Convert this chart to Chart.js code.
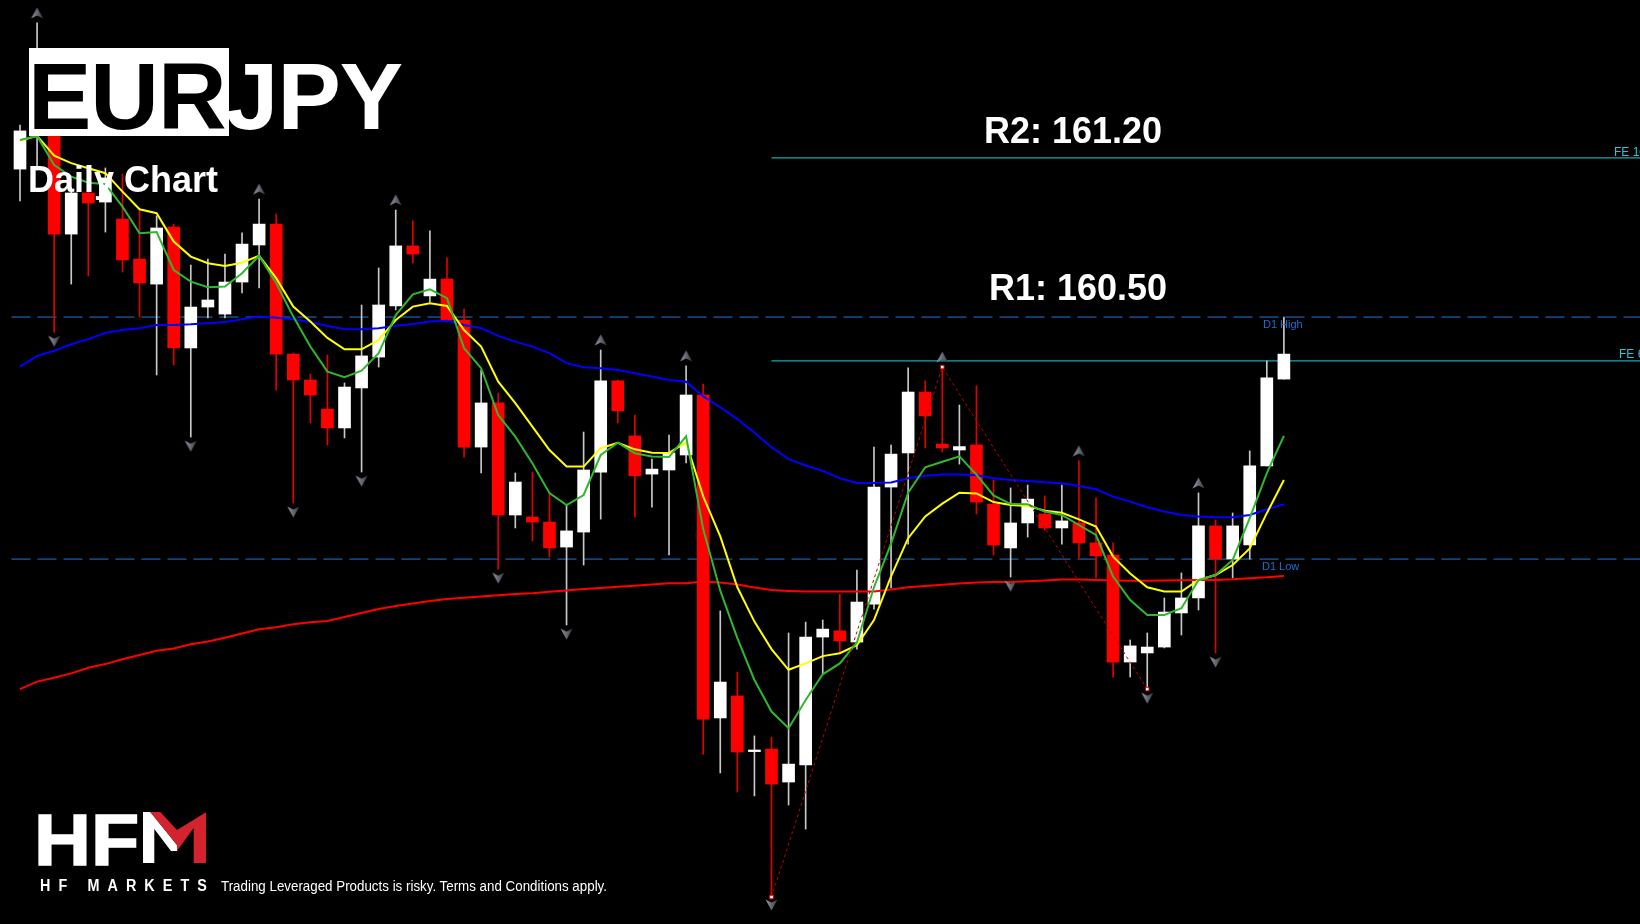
<!DOCTYPE html>
<html>
<head>
<meta charset="utf-8">
<title>EURJPY Daily Chart</title>
<script src="https://cdn.jsdelivr.net/npm/chart.js@4.4.0/dist/chart.umd.min.js"></script>
<style>
  html, body { margin: 0; padding: 0; background: #000; overflow: hidden; }
  #wrap { position: relative; width: 1640px; height: 924px; background: #000; overflow: hidden; }
  #chart { position: absolute; left: 0; top: 0; }
  .t { position: absolute; white-space: nowrap; line-height: 1; font-family: "Liberation Sans", Arial, Helvetica, sans-serif; }
  #box { position: absolute; left: 29px; top: 48px; width: 200px; height: 88px; background: #fff; }
  #title { left: 28px; top: 48.6px; font-size: 95px; font-weight: bold; color: #fff; letter-spacing: -1px; }
  #title span { color: #000; }
  #sub { left: 28px; top: 162px; font-size: 36px; font-weight: bold; color: #fff; }
  .res { font-size: 36px; font-weight: bold; color: #fff; }
  #r2 { left: 984px; top: 113px; }
  #r1 { left: 989px; top: 270px; }
  .d1 { font-size: 11px; color: #1f6fd0; }
  #d1h { left: 1263px; top: 318.6px; }
  #d1l { left: 1262px; top: 561px; }
  .fe { font-size: 12px; color: #22c8d8; }
  #fe100 { left: 1614px; top: 145.7px; }
  #fe618 { left: 1619px; top: 348.4px; }
  #hf { left: 34px; top: 802.5px; font-size: 73px; font-weight: bold; color: #fff; -webkit-text-stroke: 1.6px #fff; transform: scaleX(1.08); transform-origin: 0 0; }
  #mlogo { position: absolute; left: 142.7px; top: 812.3px; width: 63.3px; height: 51px; }
  #brand { left: 40px; top: 877.9px; font-size: 16px; font-weight: bold; color: #fff; letter-spacing: 9px; transform-origin: 0 0; }
  #disc { left: 221px; top: 879px; font-size: 14px; color: #fff; transform-origin: 0 0; }
</style>
</head>
<body>
<div id="wrap">
  <canvas id="chart" width="1640" height="924"></canvas>
  <div id="box"></div>
  <div class="t" id="title"><span>EUR</span>JPY</div>
  <div class="t" id="sub">Daily Chart</div>
  <div class="t res" id="r2">R2: 161.20</div>
  <div class="t res" id="r1">R1: 160.50</div>
  <div class="t d1" id="d1h">D1 High</div>
  <div class="t d1" id="d1l">D1 Low</div>
  <div class="t fe" id="fe100">FE 100</div>
  <div class="t fe" id="fe618">FE 61.8</div>
  <div class="t" id="hf">HF</div>
  <svg id="mlogo" viewBox="0 0 63.3 51">
    <polygon points="0,0 7.3,0 34,33 34,39 28,39 11.3,17 11.3,51 0,51" fill="#fff"/>
    <polygon points="7.3,0 17.3,0 34,18 34,33" fill="#d2232e"/>
    <polygon points="63.3,0 63.3,51 50.7,51 50.7,16 34,39 34,18" fill="#d2232e"/>
  </svg>
  <div class="t" id="brand">HF MARKETS</div>
  <div class="t" id="disc">Trading Leveraged Products is risky. Terms and Conditions apply.</div>
</div>
<script>
// daily candles, EURJPY
const open = [161.151, 161.319, 161.543, 160.865, 161.046, 161.006, 160.931, 160.755, 160.645, 160.896,
  160.364, 160.544, 160.513, 160.654, 160.817, 160.909, 160.337, 160.223, 160.095, 160.012,
  160.188, 160.324, 160.549, 160.813, 160.593, 160.667, 160.487, 159.928, 160.122, 159.629,
  159.620, 159.598, 159.488, 159.554, 159.818, 160.219, 159.977, 159.809, 159.827, 159.893,
  160.157, 158.736, 158.833, 158.588, 158.599, 158.454, 158.529, 159.092, 159.119, 159.070,
  159.237, 159.752, 159.902, 160.170, 159.941, 159.915, 159.937, 159.677, 159.484, 159.594,
  159.633, 159.572, 159.594, 159.506, 159.453, 158.982, 159.022, 159.048, 159.198, 159.264,
  159.581, 159.435, 159.497, 159.845, 160.227];
const high = [161.345, 161.794, 161.565, 161.068, 161.077, 161.156, 161.129, 160.971, 160.945, 160.909,
  160.729, 160.755, 160.777, 160.870, 161.019, 160.953, 160.342, 160.249, 160.333, 160.210,
  160.553, 160.716, 160.971, 160.923, 160.879, 160.760, 160.535, 160.267, 160.166, 159.814,
  159.818, 159.730, 159.673, 159.994, 160.355, 160.223, 160.069, 159.875, 159.981, 160.285,
  160.205, 159.207, 158.938, 158.657, 158.652, 159.110, 159.158, 159.167, 159.281, 159.387,
  159.928, 159.937, 160.276, 160.219, 160.280, 160.113, 160.197, 159.783, 159.748, 159.761,
  159.713, 159.761, 159.867, 159.704, 159.506, 159.079, 159.110, 159.264, 159.374, 159.726,
  159.607, 159.638, 159.911, 160.307, 160.500];
const low = [161.011, 161.147, 160.434, 160.645, 160.681, 160.874, 160.698, 160.500, 160.245, 160.289,
  159.972, 160.496, 160.496, 160.606, 160.628, 160.179, 159.682, 160.034, 159.937, 159.968,
  159.818, 160.280, 160.531, 160.738, 160.566, 160.478, 159.884, 159.814, 159.391, 159.572,
  159.515, 159.444, 159.145, 159.409, 159.611, 160.034, 159.620, 159.664, 159.453, 159.858,
  158.577, 158.494, 158.410, 158.393, 157.953, 158.353, 158.247, 158.929, 159.022, 159.039,
  159.215, 159.308, 159.501, 159.924, 159.906, 159.853, 159.633, 159.453, 159.356, 159.532,
  159.563, 159.501, 159.440, 159.352, 158.916, 158.916, 158.863, 159.044, 159.101, 159.211,
  159.022, 159.352, 159.435, 159.845, 160.227];
const close = [161.319, 161.543, 160.865, 161.046, 161.002, 161.112, 160.751, 160.650, 160.892, 160.364,
  160.544, 160.575, 160.654, 160.821, 160.909, 160.337, 160.223, 160.157, 160.012, 160.192,
  160.329, 160.553, 160.813, 160.777, 160.667, 160.487, 159.928, 160.122, 159.629, 159.774,
  159.598, 159.484, 159.559, 159.827, 160.219, 160.087, 159.801, 159.831, 159.902, 160.157,
  158.731, 158.894, 158.586, 158.595, 158.445, 158.533, 159.092, 159.127, 159.075, 159.246,
  159.752, 159.897, 160.170, 160.065, 159.924, 159.930, 159.686, 159.497, 159.594, 159.699,
  159.572, 159.603, 159.506, 159.449, 158.982, 159.053, 159.048, 159.202, 159.264, 159.581,
  159.435, 159.581, 159.845, 160.232, 160.337];

// moving averages
const maGreen = [161.279, 161.297, 161.169, 161.118, 161.091, 161.085, 160.986, 160.869, 160.874, 160.707,
  160.656, 160.631, 160.634, 160.693, 160.770, 160.649, 160.502, 160.370, 160.260, 160.235,
  160.264, 160.341, 160.509, 160.600, 160.622, 160.583, 160.363, 160.275, 160.069, 159.974,
  159.857, 159.725, 159.673, 159.717, 159.893, 159.947, 159.901, 159.886, 159.884, 159.975,
  159.567, 159.296, 159.087, 158.903, 158.764, 158.691, 158.815, 158.928, 158.976, 159.068,
  159.311, 159.503, 159.727, 159.839, 159.863, 159.887, 159.807, 159.715, 159.677, 159.676,
  159.644, 159.629, 159.585, 159.541, 159.358, 159.255, 159.189, 159.189, 159.219, 159.343,
  159.365, 159.431, 159.615, 159.813, 159.977];
const maYellow = [161.276, 161.297, 161.210, 161.177, 161.155, 161.133, 161.052, 160.974, 160.957, 160.832,
  160.766, 160.737, 160.725, 160.739, 160.770, 160.671, 160.546, 160.480, 160.408, 160.358,
  160.358, 160.399, 160.487, 160.546, 160.561, 160.549, 160.443, 160.370, 160.216, 160.121,
  160.018, 159.915, 159.842, 159.842, 159.923, 159.947, 159.918, 159.903, 159.902, 159.948,
  159.711, 159.535, 159.311, 159.160, 159.039, 158.948, 158.976, 159.008, 159.021, 159.056,
  159.167, 159.359, 159.527, 159.623, 159.679, 159.727, 159.724, 159.686, 159.673, 159.669,
  159.648, 159.639, 159.610, 159.578, 159.446, 159.372, 159.311, 159.292, 159.292, 159.343,
  159.365, 159.409, 159.482, 159.637, 159.783];
const maBlue = [160.282, 160.329, 160.352, 160.380, 160.403, 160.431, 160.443, 160.451, 160.465, 160.465,
  160.468, 160.473, 160.478, 160.490, 160.502, 160.497, 160.490, 160.478, 160.461, 160.447,
  160.446, 160.451, 160.462, 160.469, 160.480, 160.484, 160.465, 160.451, 160.417, 160.392,
  160.370, 160.341, 160.297, 160.279, 160.275, 160.267, 160.253, 160.238, 160.223, 160.215,
  160.151, 160.103, 160.051, 159.991, 159.927, 159.875, 159.847, 159.823, 159.791, 159.770,
  159.770, 159.772, 159.791, 159.802, 159.807, 159.807, 159.804, 159.791, 159.783, 159.779,
  159.773, 159.769, 159.757, 159.742, 159.710, 159.688, 159.663, 159.644, 159.629, 159.622,
  159.619, 159.619, 159.629, 159.654, 159.677];
const maRed = [158.863, 158.896, 158.913, 158.932, 158.957, 158.973, 158.994, 159.013, 159.032, 159.042,
  159.060, 159.072, 159.089, 159.108, 159.126, 159.135, 159.148, 159.157, 159.163, 159.180,
  159.198, 159.215, 159.229, 159.240, 159.251, 159.259, 159.265, 159.270, 159.276, 159.281,
  159.285, 159.291, 159.297, 159.303, 159.308, 159.313, 159.318, 159.323, 159.329, 159.329,
  159.336, 159.332, 159.323, 159.310, 159.299, 159.295, 159.292, 159.292, 159.292, 159.292,
  159.292, 159.301, 159.311, 159.317, 159.322, 159.328, 159.332, 159.334, 159.334, 159.337,
  159.341, 159.345, 159.345, 159.343, 159.341, 159.340, 159.340, 159.341, 159.342, 159.343,
  159.343, 159.346, 159.351, 159.355, 159.361];

// fractals (candle index)
const fractalUp = [1, 14, 22, 34, 39, 54, 62, 69];
const fractalDown = [2, 10, 16, 20, 28, 32, 44, 58, 66, 70];

// zigzag swing points
const zigzagIdx = [44, 54, 66];
const zigzagPrice = [157.948, 160.280, 158.863];

// levels
const d1High = 160.50;
const d1Low = 159.435;
const fe100 = 161.20;
const fe618 = 160.307;
const feFrom = 44;

const days = open.map((_, i) => i);
const bull = days.map(i => close[i] >= open[i]);

// little grey arrowhead used for the fractal marks
function arrowCanvas(up) {
  const c = document.createElement("canvas");
  c.width = 13;
  c.height = 12;
  const g = c.getContext("2d");
  if (!up) {
    g.translate(0, 12);
    g.scale(1, -1);
  }
  g.beginPath();
  g.moveTo(6.5, 0.5);
  g.lineTo(12.5, 11.5);
  g.lineTo(6.5, 8.5);
  g.lineTo(0.5, 11.5);
  g.closePath();
  const grd = g.createLinearGradient(0, 0, 13, 0);
  grd.addColorStop(0, "#9a9ca4");
  grd.addColorStop(0.5, "#666a72");
  grd.addColorStop(1, "#34363c");
  g.fillStyle = grd;
  g.fill();
  return c;
}

function hline(value, from, to) {
  return [{ x: from, y: value }, { x: to, y: value }];
}

function maLine(label, values, color, order) {
  return {
    type: "line",
    label: label,
    data: days.map(i => ({ x: i, y: values[i] })),
    borderColor: color,
    borderWidth: 2,
    pointRadius: 0,
    tension: 0,
    order: order,
  };
}

const ctx = document.getElementById("chart");

new Chart(ctx, {
  type: "bar",
  data: {
    datasets: [
      {
        type: "line",
        label: "fractal up",
        data: fractalUp.map(i => ({ x: i, y: high[i] + 0.044 })),
        showLine: false,
        pointStyle: arrowCanvas(true),
        pointRadius: 6,
        order: 0,
      },
      {
        type: "line",
        label: "fractal down",
        data: fractalDown.map(i => ({ x: i, y: low[i] - 0.04 })),
        showLine: false,
        pointStyle: arrowCanvas(false),
        pointRadius: 6,
        order: 0,
      },
      {
        type: "line",
        label: "zigzag",
        data: zigzagIdx.map((d, k) => ({ x: d, y: zigzagPrice[k] })),
        borderColor: "#c00000",
        borderWidth: 1,
        borderDash: [3, 3],
        pointStyle: "rect",
        pointRadius: 2.5,
        pointBackgroundColor: "#ffffff",
        pointBorderColor: "#e00000",
        pointBorderWidth: 1,
        order: 1,
      },
      maLine("fast", maGreen, "#2fb82f", 2),
      maLine("slow", maYellow, "#ffff00", 3),
      maLine("ma50", maBlue, "#0000ff", 4),
      maLine("ma200", maRed, "#ff0000", 5),
      {
        label: "bodies",
        data: days.map(i => ({ x: i, y: [open[i], close[i]] })),
        backgroundColor: days.map(i => (bull[i] ? "#ffffff" : "#ff0000")),
        borderWidth: 0,
        barThickness: 12,
        maxBarThickness: 12,
        grouped: false,
        order: 8,
      },
      {
        label: "wicks",
        data: days.map(i => ({ x: i, y: [low[i], high[i]] })),
        backgroundColor: days.map(i => (bull[i] ? "#c8c8c8" : "#e00000")),
        borderWidth: 0,
        barThickness: 1,
        maxBarThickness: 1,
        grouped: false,
        order: 9,
      },
      {
        type: "line",
        label: "D1 High",
        data: hline(d1High, -0.5, 100),
        borderColor: "#1e78d6",
        borderWidth: 1,
        borderDash: [19, 7],
        pointRadius: 0,
        order: 10,
      },
      {
        type: "line",
        label: "D1 Low",
        data: hline(d1Low, -0.5, 100),
        borderColor: "#1e78d6",
        borderWidth: 1,
        borderDash: [19, 7],
        pointRadius: 0,
        order: 10,
      },
      {
        type: "line",
        label: "FE 100",
        data: hline(fe100, feFrom, 100),
        borderColor: "#13a9b0",
        borderWidth: 1.3,
        pointRadius: 0,
        order: 10,
      },
      {
        type: "line",
        label: "FE 61.8",
        data: hline(fe618, feFrom, 100),
        borderColor: "#13a9b0",
        borderWidth: 1.3,
        pointRadius: 0,
        order: 10,
      },
    ],
  },
  options: {
    responsive: false,
    animation: false,
    devicePixelRatio: 1,
    layout: { autoPadding: false, padding: 0 },
    plugins: {
      legend: { display: false },
      tooltip: { enabled: false },
    },
    scales: {
      x: { type: "linear", min: -1.171, max: 94.85, offset: false, display: false },
      y: { min: 157.8294, max: 161.895, display: false },
    },
  },
});

// squeeze the footer texts to the widths of the logo block
function fitWidth(id, w) {
  const el = document.getElementById(id);
  const natural = el.getBoundingClientRect().width;
  el.style.transform = "scaleX(" + (w / natural) + ")";
}
fitWidth("brand", 175);
fitWidth("disc", 386);
</script>
</body>
</html>
